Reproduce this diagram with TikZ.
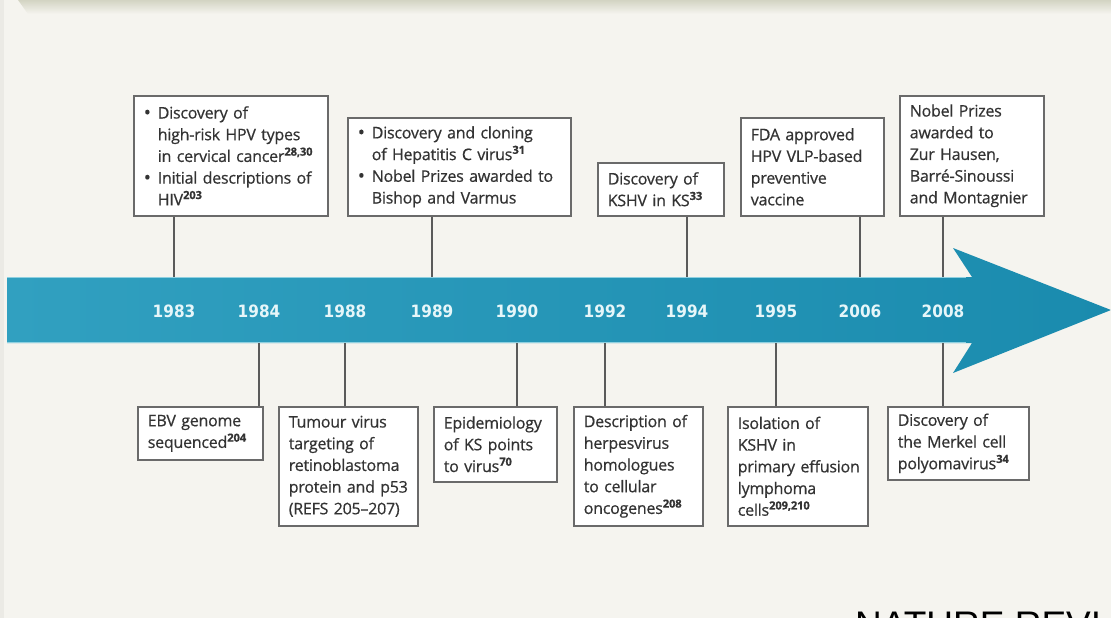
\documentclass[tikz,border=0pt]{standalone}
\usepackage{fontspec}
\setmainfont{Open Sans}[LetterSpace=-1.5, FakeBold=0.6]
\newfontfamily\yearfont{DejaVu Sans Condensed}
\newfontfamily\mastfont{Liberation Sans}
\definecolor{pagebg}{HTML}{F5F4EF}
\definecolor{bandtop}{HTML}{D3D4C3}
\definecolor{arrowleft}{HTML}{31A0C0}
\definecolor{arrowright}{HTML}{1A8BAE}
\definecolor{edgelight}{HTML}{8FD0E0}
\definecolor{boxline}{HTML}{6A6A6A}
\definecolor{linkline}{HTML}{5A5A5A}
\definecolor{bodytext}{HTML}{333333}
\definecolor{yeartext}{HTML}{E6F6F9}
\newcommand{\citeno}[1]{\textsuperscript{\bfseries #1}}
\newcommand{\bul}{\makebox[14pt][l]{\raisebox{-0.5pt}{\fontsize{19}{19}\selectfont\textbullet}}}
\newcommand{\ind}{\hspace*{14pt}}
\newcommand{\ev}[1]{\mbox{#1}}
\begin{document}
\begin{tikzpicture}[x=1pt,y=-1pt,
  event/.style={draw=boxline, line width=1.6pt, fill=white, inner xsep=10pt,
    inner ysep=0pt, anchor=north west, align=left, text=bodytext,
    font=\fontsize{16}{21.7}\selectfont},
  link/.style={draw=linkline, line width=1.4pt},
  year/.style={font=\yearfont\bfseries\fontsize{17}{17}\selectfont,
    text=yeartext, inner sep=0pt}]
% page and frame
\clip (0,0) rectangle (1111,618);
\fill[pagebg] (0,0) rectangle (1111,618);
\fill[pagebg!96!black] (0,0) rectangle (4,618);
\shade[top color=bandtop, bottom color=pagebg] (18,0) -- (1111,0) -- (1111,14) -- (28,14) -- cycle;

% timeline arrow
\shade[left color=arrowleft, right color=arrowright]
  (7,277) -- (972,277) -- (953,248) -- (1111,310) -- (953,373) -- (972,343) -- (7,343) -- cycle;
\draw[edgelight, line width=1pt] (7,277.5) -- (966,277.5);
\draw[edgelight, line width=1pt] (7,342.5) -- (966,342.5);
\coordinate (shafttop) at (0,277);
\coordinate (shaftbot) at (0,343);

% years
\node[year] (yr1983) at (174,311) {1983};
\node[year] (yr1984) at (259,311) {1984};
\node[year] (yr1988) at (345,311) {1988};
\node[year] (yr1989) at (432,311) {1989};
\node[year] (yr1990) at (517,311) {1990};
\node[year] (yr1992) at (605,311) {1992};
\node[year] (yr1994) at (687,311) {1994};
\node[year] (yr1995) at (776,311) {1995};
\node[year] (yr2006) at (860,311) {2006};
\node[year] (yr2008) at (943,311) {2008};

% events above the line
\node[event, text width=174, minimum height=120] (evA) at (133,95)
  {\ev{\bul Discovery of}\\ \ev{\ind high-risk HPV types}\\ \ev{\ind in cervical cancer\citeno{28,30}}\\
   \ev{\bul Initial descriptions of}\\ \ev{\ind HIV\citeno{203}}};
\node[event, text width=203, minimum height=98] (evB) at (347,117)
  {\ev{\bul Discovery and cloning}\\ \ev{\ind of Hepatitis C virus\citeno{31}}\\
   \ev{\bul Nobel Prizes awarded to}\\ \ev{\ind Bishop and Varmus}};
\node[event, text width=106, minimum height=53] (evC) at (597,162)
  {\ev{Discovery of}\\ \ev{KSHV in KS\citeno{33}}};
\node[event, text width=123, minimum height=98] (evD) at (740,117)
  {\ev{FDA approved}\\ \ev{HPV VLP-based}\\ \ev{preventive}\\ \ev{vaccine}};
\node[event, text width=124, minimum height=120] (evE) at (899,95)
  {\ev{Nobel Prizes}\\ \ev{awarded to}\\ \ev{Zur Hausen,}\\ \ev{Barré-Sinoussi}\\ \ev{and Montagnier}};

% events below the line
\node[event, text width=105, minimum height=53] (evF) at (137,406)
  {\ev{EBV genome}\\ \ev{sequenced\citeno{204}}};
\node[event, text width=119, minimum height=119] (evG) at (278,406)
  {\ev{Tumour virus}\\ \ev{targeting of}\\ \ev{retinoblastoma}\\ \ev{protein and p53}\\ \ev{(REFS 205--207)}};
\node[event, text width=103, minimum height=75] (evH) at (433,406)
  {\ev{Epidemiology}\\ \ev{of KS points}\\ \ev{to virus\citeno{70}}};
\node[event, text width=109, minimum height=119] (evI) at (573,406)
  {\ev{Description of}\\ \ev{herpesvirus}\\ \ev{homologues}\\ \ev{to cellular}\\ \ev{oncogenes\citeno{208}}};
\node[event, text width=120, minimum height=119] (evJ) at (727,406)
  {\ev{Isolation of}\\ \ev{KSHV in}\\ \ev{primary effusion}\\ \ev{lymphoma}\\ \ev{cells\citeno{209,210}}};
\node[event, text width=121, minimum height=73] (evK) at (887,406)
  {\ev{Discovery of}\\ \ev{the Merkel cell}\\ \ev{polyomavirus\citeno{34}}};

% connectors
\draw[link] (evA.south -| yr1983) -- (yr1983 |- shafttop);
\draw[link] (evB.south -| yr1989) -- (yr1989 |- shafttop);
\draw[link] (evC.south -| yr1994) -- (yr1994 |- shafttop);
\draw[link] (evD.south -| yr2006) -- (yr2006 |- shafttop);
\draw[link] (evE.south -| yr2008) -- (yr2008 |- shafttop);
\draw[link] (evF.north -| yr1984) -- (yr1984 |- shaftbot);
\draw[link] (evG.north -| yr1988) -- (yr1988 |- shaftbot);
\draw[link] (evH.north -| yr1990) -- (yr1990 |- shaftbot);
\draw[link] (evI.north -| yr1992) -- (yr1992 |- shaftbot);
\draw[link] (evJ.north -| yr1995) -- (yr1995 |- shaftbot);
\draw[link] (evK.north -| yr2008) -- (yr2008 |- shaftbot);

% journal masthead at the foot
\node[anchor=base west, inner sep=0pt, text=black,
  font=\mastfont\fontsize{37}{37}\selectfont] (mast) at (855,637) {NATURE REVI};
\end{tikzpicture}
\end{document}
